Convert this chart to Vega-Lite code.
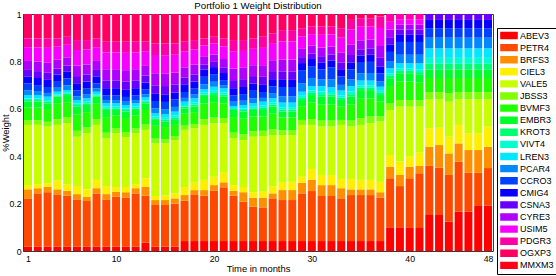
{
  "$schema": "https://vega.github.io/schema/vega-lite/v6.json",
  "width": 470,
  "height": 237,
  "autosize": {"type": "none"},
  "padding": {"left": 23, "top": 14, "right": 63, "bottom": 25},
  "background": "white",
  "config": {
    "font": "Liberation Sans",
    "view": {"stroke": "#3a3a3a", "strokeWidth": 1}
  },
  "title": {
    "text": "Portfolio 1 Weight Distribution",
    "font": "Liberation Sans",
    "fontSize": 9.7,
    "fontWeight": "normal",
    "color": "black",
    "anchor": "middle",
    "baseline": "alphabetic",
    "offset": -9
  },
  "datasets": {
    "stocks": [
      {"stock": "ABEV3", "rank": 1}, {"stock": "PETR4", "rank": 2}, {"stock": "BRFS3", "rank": 3},
      {"stock": "CIEL3", "rank": 4}, {"stock": "VALE5", "rank": 5}, {"stock": "JBSS3", "rank": 6},
      {"stock": "BVMF3", "rank": 7}, {"stock": "EMBR3", "rank": 8}, {"stock": "KROT3", "rank": 9},
      {"stock": "VIVT4", "rank": 10}, {"stock": "LREN3", "rank": 11}, {"stock": "PCAR4", "rank": 12},
      {"stock": "CCRO3", "rank": 13}, {"stock": "CMIG4", "rank": 14}, {"stock": "CSNA3", "rank": 15},
      {"stock": "CYRE3", "rank": 16}, {"stock": "USIM5", "rank": 17}, {"stock": "PDGR3", "rank": 18},
      {"stock": "OGXP3", "rank": 19}, {"stock": "MMXM3", "rank": 20}
    ],
    "weights": [
      {"m":1,"ABEV3":0.018,"PETR4":0.204,"BRFS3":0.038,"CIEL3":0.018,"VALE5":0.254,"JBSS3":0.020,"BVMF3":0.054,"EMBR3":0.024,"KROT3":0.007,"VIVT4":0.007,"LREN3":0.014,"PCAR4":0.020,"CCRO3":0.029,"CMIG4":0.030,"CSNA3":0.027,"CYRE3":0.038,"USIM5":0.058,"PDGR3":0.037,"OGXP3":0.103,"MMXM3":0},
      {"m":2,"ABEV3":0.018,"PETR4":0.225,"BRFS3":0.022,"CIEL3":0.017,"VALE5":0.250,"JBSS3":0.020,"BVMF3":0.054,"EMBR3":0.024,"KROT3":0.007,"VIVT4":0.007,"LREN3":0.014,"PCAR4":0.017,"CCRO3":0.025,"CMIG4":0.030,"CSNA3":0.029,"CYRE3":0.040,"USIM5":0.060,"PDGR3":0.038,"OGXP3":0.103,"MMXM3":0},
      {"m":3,"ABEV3":0.018,"PETR4":0.230,"BRFS3":0.023,"CIEL3":0.015,"VALE5":0.239,"JBSS3":0.020,"BVMF3":0.054,"EMBR3":0.024,"KROT3":0.007,"VIVT4":0.007,"LREN3":0.014,"PCAR4":0.016,"CCRO3":0.025,"CMIG4":0.030,"CSNA3":0.030,"CYRE3":0.042,"USIM5":0.063,"PDGR3":0.040,"OGXP3":0.103,"MMXM3":0},
      {"m":4,"ABEV3":0.018,"PETR4":0.221,"BRFS3":0.021,"CIEL3":0.037,"VALE5":0.235,"JBSS3":0.024,"BVMF3":0.065,"EMBR3":0.030,"KROT3":0.005,"VIVT4":0.005,"LREN3":0.011,"PCAR4":0.017,"CCRO3":0.025,"CMIG4":0.030,"CSNA3":0.026,"CYRE3":0.037,"USIM5":0.055,"PDGR3":0.035,"OGXP3":0.103,"MMXM3":0},
      {"m":5,"ABEV3":0.018,"PETR4":0.215,"BRFS3":0.021,"CIEL3":0.026,"VALE5":0.259,"JBSS3":0.024,"BVMF3":0.065,"EMBR3":0.030,"KROT3":0.005,"VIVT4":0.005,"LREN3":0.011,"PCAR4":0.020,"CCRO3":0.029,"CMIG4":0.030,"CSNA3":0.024,"CYRE3":0.035,"USIM5":0.053,"PDGR3":0.034,"OGXP3":0.096,"MMXM3":0},
      {"m":6,"ABEV3":0.018,"PETR4":0.200,"BRFS3":0.022,"CIEL3":0.034,"VALE5":0.208,"JBSS3":0.025,"BVMF3":0.070,"EMBR3":0.032,"KROT3":0.007,"VIVT4":0.007,"LREN3":0.014,"PCAR4":0.016,"CCRO3":0.025,"CMIG4":0.030,"CSNA3":0.030,"CYRE3":0.044,"USIM5":0.066,"PDGR3":0.042,"OGXP3":0.110,"MMXM3":0},
      {"m":7,"ABEV3":0.018,"PETR4":0.193,"BRFS3":0.018,"CIEL3":0.031,"VALE5":0.237,"JBSS3":0.024,"BVMF3":0.065,"EMBR3":0.030,"KROT3":0.007,"VIVT4":0.007,"LREN3":0.014,"PCAR4":0.016,"CCRO3":0.025,"CMIG4":0.030,"CSNA3":0.030,"CYRE3":0.042,"USIM5":0.063,"PDGR3":0.040,"OGXP3":0.110,"MMXM3":0},
      {"m":8,"ABEV3":0.018,"PETR4":0.225,"BRFS3":0.022,"CIEL3":0.035,"VALE5":0.232,"JBSS3":0.024,"BVMF3":0.065,"EMBR3":0.030,"KROT3":0.005,"VIVT4":0.005,"LREN3":0.011,"PCAR4":0.014,"CCRO3":0.021,"CMIG4":0.030,"CSNA3":0.027,"CYRE3":0.038,"USIM5":0.058,"PDGR3":0.037,"OGXP3":0.103,"MMXM3":0},
      {"m":9,"ABEV3":0.018,"PETR4":0.200,"BRFS3":0.022,"CIEL3":0.034,"VALE5":0.201,"JBSS3":0.024,"BVMF3":0.066,"EMBR3":0.030,"KROT3":0.007,"VIVT4":0.007,"LREN3":0.014,"PCAR4":0.014,"CCRO3":0.020,"CMIG4":0.030,"CSNA3":0.033,"CYRE3":0.047,"USIM5":0.071,"PDGR3":0.045,"OGXP3":0.117,"MMXM3":0},
      {"m":10,"ABEV3":0.018,"PETR4":0.211,"BRFS3":0.021,"CIEL3":0.020,"VALE5":0.227,"JBSS3":0.020,"BVMF3":0.054,"EMBR3":0.024,"KROT3":0.007,"VIVT4":0.007,"LREN3":0.014,"PCAR4":0.014,"CCRO3":0.020,"CMIG4":0.030,"CSNA3":0.033,"CYRE3":0.047,"USIM5":0.071,"PDGR3":0.045,"OGXP3":0.117,"MMXM3":0},
      {"m":11,"ABEV3":0.018,"PETR4":0.208,"BRFS3":0.022,"CIEL3":0.022,"VALE5":0.210,"JBSS3":0.022,"BVMF3":0.059,"EMBR3":0.027,"KROT3":0.007,"VIVT4":0.007,"LREN3":0.014,"PCAR4":0.014,"CCRO3":0.020,"CMIG4":0.030,"CSNA3":0.034,"CYRE3":0.049,"USIM5":0.073,"PDGR3":0.047,"OGXP3":0.117,"MMXM3":0},
      {"m":12,"ABEV3":0.018,"PETR4":0.225,"BRFS3":0.022,"CIEL3":0.017,"VALE5":0.215,"JBSS3":0.020,"BVMF3":0.054,"EMBR3":0.024,"KROT3":0.007,"VIVT4":0.007,"LREN3":0.014,"PCAR4":0.014,"CCRO3":0.020,"CMIG4":0.030,"CSNA3":0.033,"CYRE3":0.047,"USIM5":0.071,"PDGR3":0.045,"OGXP3":0.117,"MMXM3":0},
      {"m":13,"ABEV3":0.035,"PETR4":0.198,"BRFS3":0.038,"CIEL3":0.036,"VALE5":0.204,"JBSS3":0.022,"BVMF3":0.062,"EMBR3":0.028,"KROT3":0.006,"VIVT4":0.006,"LREN3":0.013,"PCAR4":0.013,"CCRO3":0.020,"CMIG4":0.030,"CSNA3":0.029,"CYRE3":0.041,"USIM5":0.062,"PDGR3":0.040,"OGXP3":0.117,"MMXM3":0},
      {"m":14,"ABEV3":0.018,"PETR4":0.176,"BRFS3":0.021,"CIEL3":0.017,"VALE5":0.222,"JBSS3":0.020,"BVMF3":0.054,"EMBR3":0.025,"KROT3":0.007,"VIVT4":0.007,"LREN3":0.014,"PCAR4":0.021,"CCRO3":0.031,"CMIG4":0.030,"CSNA3":0.036,"CYRE3":0.051,"USIM5":0.077,"PDGR3":0.049,"OGXP3":0.124,"MMXM3":0},
      {"m":15,"ABEV3":0.018,"PETR4":0.176,"BRFS3":0.021,"CIEL3":0.020,"VALE5":0.219,"JBSS3":0.018,"BVMF3":0.051,"EMBR3":0.023,"KROT3":0.008,"VIVT4":0.008,"LREN3":0.016,"PCAR4":0.020,"CCRO3":0.031,"CMIG4":0.030,"CSNA3":0.037,"CYRE3":0.052,"USIM5":0.078,"PDGR3":0.050,"OGXP3":0.124,"MMXM3":0},
      {"m":16,"ABEV3":0.018,"PETR4":0.182,"BRFS3":0.022,"CIEL3":0.021,"VALE5":0.225,"JBSS3":0.017,"BVMF3":0.047,"EMBR3":0.021,"KROT3":0.009,"VIVT4":0.009,"LREN3":0.017,"PCAR4":0.020,"CCRO3":0.031,"CMIG4":0.030,"CSNA3":0.034,"CYRE3":0.050,"USIM5":0.075,"PDGR3":0.048,"OGXP3":0.124,"MMXM3":0},
      {"m":17,"ABEV3":0.042,"PETR4":0.170,"BRFS3":0.024,"CIEL3":0.034,"VALE5":0.241,"JBSS3":0.018,"BVMF3":0.050,"EMBR3":0.023,"KROT3":0.007,"VIVT4":0.007,"LREN3":0.014,"PCAR4":0.016,"CCRO3":0.025,"CMIG4":0.030,"CSNA3":0.030,"CYRE3":0.044,"USIM5":0.066,"PDGR3":0.042,"OGXP3":0.117,"MMXM3":0},
      {"m":18,"ABEV3":0.042,"PETR4":0.197,"BRFS3":0.018,"CIEL3":0.031,"VALE5":0.230,"JBSS3":0.018,"BVMF3":0.050,"EMBR3":0.023,"KROT3":0.009,"VIVT4":0.009,"LREN3":0.017,"PCAR4":0.016,"CCRO3":0.025,"CMIG4":0.030,"CSNA3":0.030,"CYRE3":0.042,"USIM5":0.063,"PDGR3":0.040,"OGXP3":0.110,"MMXM3":0},
      {"m":19,"ABEV3":0.042,"PETR4":0.191,"BRFS3":0.024,"CIEL3":0.043,"VALE5":0.232,"JBSS3":0.024,"BVMF3":0.067,"EMBR3":0.031,"KROT3":0.007,"VIVT4":0.007,"LREN3":0.014,"PCAR4":0.021,"CCRO3":0.032,"CMIG4":0.030,"CSNA3":0.022,"CYRE3":0.032,"USIM5":0.048,"PDGR3":0.030,"OGXP3":0.103,"MMXM3":0},
      {"m":20,"ABEV3":0.042,"PETR4":0.212,"BRFS3":0.024,"CIEL3":0.035,"VALE5":0.226,"JBSS3":0.024,"BVMF3":0.065,"EMBR3":0.030,"KROT3":0.009,"VIVT4":0.009,"LREN3":0.017,"PCAR4":0.021,"CCRO3":0.032,"CMIG4":0.030,"CSNA3":0.022,"CYRE3":0.031,"USIM5":0.046,"PDGR3":0.029,"OGXP3":0.096,"MMXM3":0},
      {"m":21,"ABEV3":0.042,"PETR4":0.227,"BRFS3":0.021,"CIEL3":0.040,"VALE5":0.209,"JBSS3":0.022,"BVMF3":0.062,"EMBR3":0.028,"KROT3":0.009,"VIVT4":0.009,"LREN3":0.017,"PCAR4":0.014,"CCRO3":0.021,"CMIG4":0.030,"CSNA3":0.024,"CYRE3":0.035,"USIM5":0.053,"PDGR3":0.034,"OGXP3":0.103,"MMXM3":0},
      {"m":22,"ABEV3":0.042,"PETR4":0.191,"BRFS3":0.021,"CIEL3":0.024,"VALE5":0.197,"JBSS3":0.024,"BVMF3":0.066,"EMBR3":0.030,"KROT3":0.004,"VIVT4":0.004,"LREN3":0.009,"PCAR4":0.018,"CCRO3":0.027,"CMIG4":0.030,"CSNA3":0.034,"CYRE3":0.049,"USIM5":0.073,"PDGR3":0.047,"OGXP3":0.110,"MMXM3":0},
      {"m":23,"ABEV3":0.042,"PETR4":0.166,"BRFS3":0.040,"CIEL3":0.022,"VALE5":0.198,"JBSS3":0.024,"BVMF3":0.066,"EMBR3":0.030,"KROT3":0.007,"VIVT4":0.007,"LREN3":0.014,"PCAR4":0.018,"CCRO3":0.028,"CMIG4":0.030,"CSNA3":0.033,"CYRE3":0.048,"USIM5":0.071,"PDGR3":0.046,"OGXP3":0.110,"MMXM3":0},
      {"m":24,"ABEV3":0.042,"PETR4":0.145,"BRFS3":0.038,"CIEL3":0.023,"VALE5":0.234,"JBSS3":0.023,"BVMF3":0.062,"EMBR3":0.028,"KROT3":0.007,"VIVT4":0.007,"LREN3":0.014,"PCAR4":0.021,"CCRO3":0.032,"CMIG4":0.030,"CSNA3":0.032,"CYRE3":0.046,"USIM5":0.069,"PDGR3":0.044,"OGXP3":0.103,"MMXM3":0},
      {"m":25,"ABEV3":0.042,"PETR4":0.142,"BRFS3":0.041,"CIEL3":0.025,"VALE5":0.235,"JBSS3":0.022,"BVMF3":0.060,"EMBR3":0.028,"KROT3":0.009,"VIVT4":0.009,"LREN3":0.017,"PCAR4":0.016,"CCRO3":0.025,"CMIG4":0.030,"CSNA3":0.034,"CYRE3":0.049,"USIM5":0.073,"PDGR3":0.047,"OGXP3":0.096,"MMXM3":0},
      {"m":26,"ABEV3":0.042,"PETR4":0.180,"BRFS3":0.021,"CIEL3":0.028,"VALE5":0.218,"JBSS3":0.024,"BVMF3":0.066,"EMBR3":0.030,"KROT3":0.009,"VIVT4":0.009,"LREN3":0.017,"PCAR4":0.020,"CCRO3":0.031,"CMIG4":0.030,"CSNA3":0.034,"CYRE3":0.046,"USIM5":0.069,"PDGR3":0.044,"OGXP3":0.082,"MMXM3":0},
      {"m":27,"ABEV3":0.042,"PETR4":0.173,"BRFS3":0.042,"CIEL3":0.031,"VALE5":0.201,"JBSS3":0.020,"BVMF3":0.054,"EMBR3":0.025,"KROT3":0.009,"VIVT4":0.010,"LREN3":0.019,"PCAR4":0.026,"CCRO3":0.040,"CMIG4":0.030,"CSNA3":0.036,"CYRE3":0.050,"USIM5":0.076,"PDGR3":0.048,"OGXP3":0.068,"MMXM3":0},
      {"m":28,"ABEV3":0.042,"PETR4":0.173,"BRFS3":0.042,"CIEL3":0.035,"VALE5":0.197,"JBSS3":0.020,"BVMF3":0.054,"EMBR3":0.025,"KROT3":0.009,"VIVT4":0.010,"LREN3":0.019,"PCAR4":0.026,"CCRO3":0.040,"CMIG4":0.030,"CSNA3":0.036,"CYRE3":0.050,"USIM5":0.076,"PDGR3":0.048,"OGXP3":0.068,"MMXM3":0},
      {"m":29,"ABEV3":0.042,"PETR4":0.201,"BRFS3":0.045,"CIEL3":0.025,"VALE5":0.219,"JBSS3":0.021,"BVMF3":0.058,"EMBR3":0.026,"KROT3":0.009,"VIVT4":0.009,"LREN3":0.017,"PCAR4":0.036,"CCRO3":0.055,"CMIG4":0.030,"CSNA3":0.025,"CYRE3":0.035,"USIM5":0.053,"PDGR3":0.034,"OGXP3":0.060,"MMXM3":0},
      {"m":30,"ABEV3":0.042,"PETR4":0.211,"BRFS3":0.047,"CIEL3":0.046,"VALE5":0.186,"JBSS3":0.025,"BVMF3":0.069,"EMBR3":0.032,"KROT3":0.009,"VIVT4":0.010,"LREN3":0.019,"PCAR4":0.034,"CCRO3":0.050,"CMIG4":0.030,"CSNA3":0.023,"CYRE3":0.033,"USIM5":0.049,"PDGR3":0.032,"OGXP3":0.053,"MMXM3":0},
      {"m":31,"ABEV3":0.042,"PETR4":0.190,"BRFS3":0.046,"CIEL3":0.043,"VALE5":0.204,"JBSS3":0.025,"BVMF3":0.069,"EMBR3":0.032,"KROT3":0.011,"VIVT4":0.011,"LREN3":0.023,"PCAR4":0.028,"CCRO3":0.042,"CMIG4":0.030,"CSNA3":0.026,"CYRE3":0.036,"USIM5":0.054,"PDGR3":0.035,"OGXP3":0.053,"MMXM3":0},
      {"m":32,"ABEV3":0.042,"PETR4":0.190,"BRFS3":0.046,"CIEL3":0.043,"VALE5":0.204,"JBSS3":0.025,"BVMF3":0.069,"EMBR3":0.032,"KROT3":0.010,"VIVT4":0.010,"LREN3":0.020,"PCAR4":0.033,"CCRO3":0.050,"CMIG4":0.030,"CSNA3":0.025,"CYRE3":0.034,"USIM5":0.051,"PDGR3":0.033,"OGXP3":0.053,"MMXM3":0},
      {"m":33,"ABEV3":0.042,"PETR4":0.180,"BRFS3":0.043,"CIEL3":0.039,"VALE5":0.228,"JBSS3":0.021,"BVMF3":0.058,"EMBR3":0.026,"KROT3":0.010,"VIVT4":0.010,"LREN3":0.020,"PCAR4":0.024,"CCRO3":0.036,"CMIG4":0.030,"CSNA3":0.029,"CYRE3":0.042,"USIM5":0.062,"PDGR3":0.040,"OGXP3":0.060,"MMXM3":0},
      {"m":34,"ABEV3":0.042,"PETR4":0.194,"BRFS3":0.024,"CIEL3":0.044,"VALE5":0.221,"JBSS3":0.025,"BVMF3":0.069,"EMBR3":0.032,"KROT3":0.011,"VIVT4":0.011,"LREN3":0.023,"PCAR4":0.028,"CCRO3":0.042,"CMIG4":0.030,"CSNA3":0.031,"CYRE3":0.043,"USIM5":0.064,"PDGR3":0.041,"OGXP3":0.025,"MMXM3":0},
      {"m":35,"ABEV3":0.042,"PETR4":0.194,"BRFS3":0.024,"CIEL3":0.040,"VALE5":0.232,"JBSS3":0.029,"BVMF3":0.081,"EMBR3":0.037,"KROT3":0.010,"VIVT4":0.010,"LREN3":0.020,"PCAR4":0.030,"CCRO3":0.045,"CMIG4":0.030,"CSNA3":0.027,"CYRE3":0.038,"USIM5":0.057,"PDGR3":0.036,"OGXP3":0.018,"MMXM3":0},
      {"m":36,"ABEV3":0.042,"PETR4":0.194,"BRFS3":0.024,"CIEL3":0.040,"VALE5":0.239,"JBSS3":0.028,"BVMF3":0.077,"EMBR3":0.035,"KROT3":0.010,"VIVT4":0.010,"LREN3":0.020,"PCAR4":0.032,"CCRO3":0.047,"CMIG4":0.030,"CSNA3":0.027,"CYRE3":0.037,"USIM5":0.055,"PDGR3":0.035,"OGXP3":0.018,"MMXM3":0},
      {"m":37,"ABEV3":0.042,"PETR4":0.184,"BRFS3":0.022,"CIEL3":0.044,"VALE5":0.254,"JBSS3":0.022,"BVMF3":0.062,"EMBR3":0.028,"KROT3":0.009,"VIVT4":0.009,"LREN3":0.017,"PCAR4":0.022,"CCRO3":0.034,"CMIG4":0.030,"CSNA3":0.036,"CYRE3":0.050,"USIM5":0.076,"PDGR3":0.048,"OGXP3":0.011,"MMXM3":0},
      {"m":38,"ABEV3":0.100,"PETR4":0.207,"BRFS3":0.049,"CIEL3":0.049,"VALE5":0.190,"JBSS3":0.027,"BVMF3":0.074,"EMBR3":0.033,"KROT3":0.010,"VIVT4":0.011,"LREN3":0.021,"PCAR4":0.028,"CCRO3":0.041,"CMIG4":0.030,"CSNA3":0.032,"CYRE3":0.032,"USIM5":0.033,"PDGR3":0.033,"OGXP3":0,"MMXM3":0},
      {"m":39,"ABEV3":0.100,"PETR4":0.174,"BRFS3":0.047,"CIEL3":0.056,"VALE5":0.232,"JBSS3":0.028,"BVMF3":0.078,"EMBR3":0.035,"KROT3":0.010,"VIVT4":0.011,"LREN3":0.021,"PCAR4":0.036,"CCRO3":0.054,"CMIG4":0.030,"CSNA3":0.022,"CYRE3":0.022,"USIM5":0.022,"PDGR3":0.022,"OGXP3":0,"MMXM3":0},
      {"m":40,"ABEV3":0.100,"PETR4":0.207,"BRFS3":0.049,"CIEL3":0.042,"VALE5":0.211,"JBSS3":0.028,"BVMF3":0.078,"EMBR3":0.035,"KROT3":0.010,"VIVT4":0.011,"LREN3":0.021,"PCAR4":0.036,"CCRO3":0.054,"CMIG4":0.030,"CSNA3":0.022,"CYRE3":0.022,"USIM5":0.022,"PDGR3":0.022,"OGXP3":0,"MMXM3":0},
      {"m":41,"ABEV3":0.097,"PETR4":0.231,"BRFS3":0.031,"CIEL3":0.056,"VALE5":0.194,"JBSS3":0.027,"BVMF3":0.074,"EMBR3":0.033,"KROT3":0.012,"VIVT4":0.012,"LREN3":0.025,"PCAR4":0.036,"CCRO3":0.054,"CMIG4":0.030,"CSNA3":0.022,"CYRE3":0.022,"USIM5":0.022,"PDGR3":0.022,"OGXP3":0,"MMXM3":0},
      {"m":42,"ABEV3":0.152,"PETR4":0.207,"BRFS3":0.081,"CIEL3":0.078,"VALE5":0.122,"JBSS3":0.030,"BVMF3":0.060,"EMBR3":0.035,"KROT3":0.025,"VIVT4":0.025,"LREN3":0.040,"PCAR4":0.045,"CCRO3":0.040,"CMIG4":0.035,"CSNA3":0.025,"CYRE3":0,"USIM5":0,"PDGR3":0,"OGXP3":0,"MMXM3":0},
      {"m":43,"ABEV3":0.152,"PETR4":0.200,"BRFS3":0.095,"CIEL3":0.073,"VALE5":0.120,"JBSS3":0.030,"BVMF3":0.060,"EMBR3":0.035,"KROT3":0.025,"VIVT4":0.025,"LREN3":0.040,"PCAR4":0.045,"CCRO3":0.040,"CMIG4":0.035,"CSNA3":0.025,"CYRE3":0,"USIM5":0,"PDGR3":0,"OGXP3":0,"MMXM3":0},
      {"m":44,"ABEV3":0.124,"PETR4":0.197,"BRFS3":0.091,"CIEL3":0.070,"VALE5":0.148,"JBSS3":0.035,"BVMF3":0.065,"EMBR3":0.035,"KROT3":0.025,"VIVT4":0.025,"LREN3":0.040,"PCAR4":0.045,"CCRO3":0.040,"CMIG4":0.035,"CSNA3":0.025,"CYRE3":0,"USIM5":0,"PDGR3":0,"OGXP3":0,"MMXM3":0},
      {"m":45,"ABEV3":0.166,"PETR4":0.211,"BRFS3":0.077,"CIEL3":0.078,"VALE5":0.108,"JBSS3":0.030,"BVMF3":0.060,"EMBR3":0.035,"KROT3":0.025,"VIVT4":0.025,"LREN3":0.040,"PCAR4":0.045,"CCRO3":0.040,"CMIG4":0.035,"CSNA3":0.025,"CYRE3":0,"USIM5":0,"PDGR3":0,"OGXP3":0,"MMXM3":0},
      {"m":46,"ABEV3":0.166,"PETR4":0.164,"BRFS3":0.096,"CIEL3":0.071,"VALE5":0.143,"JBSS3":0.030,"BVMF3":0.060,"EMBR3":0.035,"KROT3":0.025,"VIVT4":0.025,"LREN3":0.040,"PCAR4":0.045,"CCRO3":0.040,"CMIG4":0.035,"CSNA3":0.025,"CYRE3":0,"USIM5":0,"PDGR3":0,"OGXP3":0,"MMXM3":0},
      {"m":47,"ABEV3":0.190,"PETR4":0.140,"BRFS3":0.096,"CIEL3":0.071,"VALE5":0.143,"JBSS3":0.030,"BVMF3":0.060,"EMBR3":0.035,"KROT3":0.025,"VIVT4":0.025,"LREN3":0.040,"PCAR4":0.045,"CCRO3":0.040,"CMIG4":0.035,"CSNA3":0.025,"CYRE3":0,"USIM5":0,"PDGR3":0,"OGXP3":0,"MMXM3":0},
      {"m":48,"ABEV3":0.192,"PETR4":0.158,"BRFS3":0.090,"CIEL3":0.085,"VALE5":0.115,"JBSS3":0.030,"BVMF3":0.060,"EMBR3":0.035,"KROT3":0.025,"VIVT4":0.025,"LREN3":0.040,"PCAR4":0.045,"CCRO3":0.040,"CMIG4":0.035,"CSNA3":0.025,"CYRE3":0,"USIM5":0,"PDGR3":0,"OGXP3":0,"MMXM3":0}
    ]
  },
  "data": {"name": "weights"},
  "transform": [
    {"fold": ["ABEV3","PETR4","BRFS3","CIEL3","VALE5","JBSS3","BVMF3","EMBR3","KROT3","VIVT4","LREN3","PCAR4","CCRO3","CMIG4","CSNA3","CYRE3","USIM5","PDGR3","OGXP3","MMXM3"], "as": ["stock", "weight"]},
    {"lookup": "stock", "from": {"data": {"name": "stocks"}, "key": "stock", "fields": ["rank"]}}
  ],
  "mark": {"type": "bar", "size": 8, "clip": true},
  "encoding": {
    "x": {
      "field": "m",
      "type": "quantitative",
      "scale": {"domain": [1, 48], "nice": false, "zero": false},
      "axis": {
        "values": [1, 10, 20, 30, 40, 48],
        "format": "d",
        "domain": false,
        "grid": false,
        "tickSize": -3,
        "tickColor": "#333",
        "labelPadding": 6,
        "labelFontSize": 8.7,
        "labelColor": "black",
        "title": "Time in months",
        "titleFontSize": 9.4,
        "titleFontWeight": "normal",
        "titleColor": "black",
        "titleBaseline": "alphabetic",
        "titleY": 20
      }
    },
    "y": {
      "field": "weight",
      "type": "quantitative",
      "stack": "zero",
      "scale": {"domain": [0, 1], "nice": false},
      "axis": {
        "values": [0, 0.2, 0.4, 0.6, 0.8, 1],
        "format": "~g",
        "domain": false,
        "grid": false,
        "tickSize": -3,
        "tickColor": "#333",
        "labelPadding": 5,
        "labelFontSize": 8.7,
        "labelColor": "black",
        "title": "%Weight",
        "titleFontSize": 9.4,
        "titleFontWeight": "normal",
        "titleColor": "black",
        "titleBaseline": "middle",
        "titleX": -18
      }
    },
    "color": {
      "field": "stock",
      "type": "nominal",
      "scale": {
        "domain": ["ABEV3","PETR4","BRFS3","CIEL3","VALE5","JBSS3","BVMF3","EMBR3","KROT3","VIVT4","LREN3","PCAR4","CCRO3","CMIG4","CSNA3","CYRE3","USIM5","PDGR3","OGXP3","MMXM3"],
        "range": ["#FF0000","#FF4800","#FF8F00","#FFEF00","#C7FF00","#80FF00","#20FF00","#00FF28","#00FF70","#00FFCF","#00E7FF","#0088FF","#0040FF","#0800FF","#6800FF","#AF00FF","#F700FF","#FF00A7","#FF0060","#FF0018"]
      },
      "legend": {
        "title": null,
        "orient": "none",
        "legendX": 474,
        "legendY": 14,
        "symbolType": "M-1,-0.42H1V0.42H-1Z",
        "symbolSize": 310,
        "symbolStrokeWidth": 0,
        "symbolOpacity": 1,
        "labelFont": "Liberation Sans",
        "labelFontSize": 9,
        "labelColor": "black",
        "labelOffset": 2,
        "clipHeight": 9,
        "rowPadding": 2.1,
        "padding": 3,
        "strokeColor": "black",
        "fillColor": "white"
      }
    },
    "order": {"field": "rank", "type": "quantitative", "sort": "ascending"}
  }
}
